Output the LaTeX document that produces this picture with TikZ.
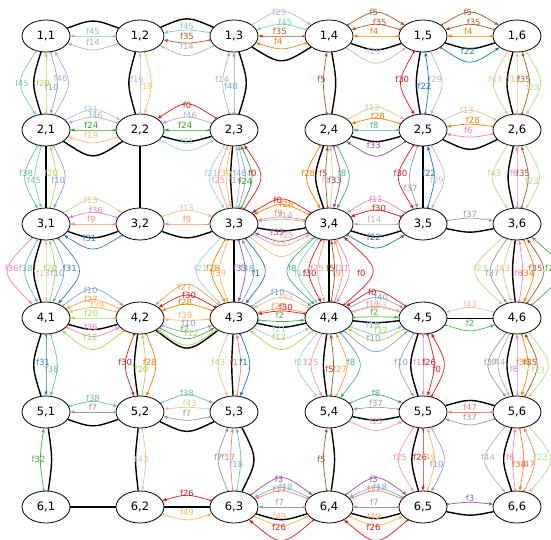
\documentclass[tikz,border=0pt]{standalone}
\usepackage{fontspec}
\setmainfont{DejaVu Sans}
\usetikzlibrary{shapes.geometric,calc,arrows.meta}
\definecolor{f0}{HTML}{E31A1C}\definecolor{f1}{HTML}{1F78B4}\definecolor{f2}{HTML}{4DAF4A}
\definecolor{f3}{HTML}{984EA3}\definecolor{f4}{HTML}{FF7F00}\definecolor{f5}{HTML}{A65628}
\definecolor{f6}{HTML}{F781BF}\definecolor{f7}{HTML}{999999}\definecolor{f8}{HTML}{45B08C}
\definecolor{f9}{HTML}{FC8D62}\definecolor{f10}{HTML}{8DA0CB}\definecolor{f11}{HTML}{E78AC3}
\definecolor{f12}{HTML}{A6D854}\definecolor{f13}{HTML}{E5C494}\definecolor{f14}{HTML}{B3B3B3}
\definecolor{f15}{HTML}{7FCDBB}\definecolor{f16}{HTML}{BEBADA}\definecolor{f17}{HTML}{FB8072}
\definecolor{f18}{HTML}{80B1D3}\definecolor{f19}{HTML}{FDBF6F}\definecolor{f20}{HTML}{A6D854}
\definecolor{f21}{HTML}{A6CEE3}\definecolor{f22}{HTML}{1F78B4}\definecolor{f23}{HTML}{B2DF8A}
\definecolor{f24}{HTML}{33A02C}\definecolor{f25}{HTML}{FB9A99}\definecolor{f26}{HTML}{E41A1C}
\definecolor{f27}{HTML}{FF9E4A}\definecolor{f28}{HTML}{FF7F00}\definecolor{f29}{HTML}{CAB2D6}
\definecolor{f30}{HTML}{E31A1C}\definecolor{f31}{HTML}{377EB8}\definecolor{f32}{HTML}{4DAF4A}
\definecolor{f33}{HTML}{984EA3}\definecolor{f34}{HTML}{FF7F00}\definecolor{f35}{HTML}{B15928}
\definecolor{f36}{HTML}{F781BF}\definecolor{f37}{HTML}{999999}\definecolor{f38}{HTML}{66C2A5}
\definecolor{f39}{HTML}{FDB462}\definecolor{f40}{HTML}{8DA0CB}\definecolor{f43}{HTML}{E5C494}
\definecolor{f44}{HTML}{B3B3B3}\definecolor{f45}{HTML}{7FCDBB}\definecolor{f46}{HTML}{B2ABD2}
\definecolor{f47}{HTML}{FB8072}\definecolor{f48}{HTML}{80A8D8}\definecolor{f49}{HTML}{FDB462}
\tikzset{
  nd/.style={draw, ellipse, line width=0.8pt, minimum width=48pt, minimum height=32pt, inner sep=0pt, font=\fontsize{11.5}{13}\selectfont},
  lp/.store in=\lpos,
  fl/.style={line width=0.7pt, lp=0.5, arrows={Triangle[open,reversed,length=2.6pt,width=2.6pt]-Triangle[length=4pt,width=3pt]}},
  rv/.style={arrows={Triangle[length=4pt,width=3pt]-Triangle[open,reversed,length=2.6pt,width=2.6pt]}},
  bk/.style={line width=1.4pt},
  lb/.style={font=\fontsize{8.5}{10}\selectfont, inner sep=0pt}
}
\newcommand\hf[6][]{\draw[fl,draw=#5,#1] (#2) .. controls ($(#2)!0.5!(#3)+(0,1.333*#4)$) .. (#3) node[lb,text=#5,pos=\lpos,yshift={(5+0.25*(#4))*1pt}]{#6};}
\newcommand\vf[6][]{\draw[fl,draw=#5,#1] (#2) .. controls ($(#2)!0.5!(#3)+(1.333*#4,0)$) .. (#3) node[lb,text=#5,pos=\lpos,xshift={(-3-0.2*(#4))*1pt}]{#6};}
\newcommand\bh[3]{\draw[bk] (#1) .. controls ($(#1)!0.5!(#2)+(0,1.333*#3)$) .. (#2);}
\newcommand\bv[3]{\draw[bk] (#1) .. controls ($(#1)!0.5!(#2)+(1.333*#3,0)$) .. (#2);}
\begin{document}
\begin{tikzpicture}[x=1pt,y=-1pt]
\path[use as bounding box] (0,0) rectangle (551,539);
\foreach \r/\y in {1/36,2/130,3/224,4/318,5/412,6/507}
  \foreach \c/\x in {1/46,2/140,3/234,4/329,5/423,6/517}
    \node[nd] (n\r\c) at (\x,\y) {\r,\c};
% black edges
\bh{n11}{n12}{-13}\bh{n12}{n13}{-15}\bh{n13}{n14}{22}\bh{n14}{n15}{12}\bh{n15}{n16}{11}
\bh{n21}{n22}{23}\bh{n22}{n23}{10}\bh{n24}{n25}{10}\bh{n25}{n26}{17}
\bh{n31}{n32}{12}\bh{n32}{n33}{12}\bh{n33}{n34}{6}\bh{n34}{n35}{11}\bh{n35}{n36}{7}
\bh{n41}{n42}{10}\bh{n42}{n43}{27}\bh{n43}{n44}{8}\bh{n44}{n45}{4}\bh{n45}{n46}{1}
\bh{n51}{n52}{12}\bh{n52}{n53}{17}\bh{n54}{n55}{7}\bh{n55}{n56}{-10}
\bh{n61}{n62}{0}\bh{n62}{n63}{0}\bh{n63}{n64}{11}\bh{n64}{n65}{10}\bh{n65}{n66}{7}
\bv{n11}{n21}{-11}\bv{n21}{n31}{0}\bv{n31}{n41}{-11}\bv{n41}{n51}{-11}\bv{n51}{n61}{5}
\bv{n12}{n22}{-10}\bv{n22}{n32}{0}\bv{n42}{n52}{-5}\bv{n52}{n62}{-4}
\bv{n13}{n23}{11}\bv{n23}{n33}{-3}\bv{n33}{n43}{0}\bv{n43}{n53}{-2}\bv{n53}{n63}{18}
\bv{n14}{n24}{6}\bv{n24}{n34}{-12}\bv{n34}{n44}{0}\bv{n44}{n54}{-5}\bv{n54}{n64}{5}
\bv{n15}{n25}{-6}\bv{n25}{n35}{0}\bv{n45}{n55}{-11}\bv{n55}{n65}{-10}
\bv{n16}{n26}{-9}\bv{n26}{n36}{-8}\bv{n36}{n46}{-4}\bv{n46}{n56}{-9}\bv{n56}{n66}{-12}
% row 1
\hf[rv]{n11}{n12}{0}{f45}{f45}
\hf[rv]{n11}{n12}{12}{f14}{f14}
\hf[rv]{n12}{n13}{-5}{f45}{f45}
\hf[rv]{n12}{n13}{6}{f35}{f35}
\hf[rv]{n12}{n13}{17}{f14}{f14}
\hf[lp=.45]{n13}{n14}{-22}{f29}{f29}
\hf[rv,lp=.6]{n13}{n14}{-10}{f45}{f45}
\hf[rv,lp=.45]{n13}{n14}{0}{f35}{f35}
\hf[rv,lp=.42]{n13}{n14}{11}{f4}{f4}
\hf[lp=.45]{n14}{n15}{-21}{f5}{f5}
\hf[rv,lp=.6]{n14}{n15}{-10}{f35}{f35}
\hf[rv,lp=.45]{n14}{n15}{0}{f4}{f4}
\hf[lp=.45]{n14}{n15}{24}{f29}{f29}
\hf[lp=.45]{n15}{n16}{-21}{f5}{f5}
\hf[rv,lp=.6]{n15}{n16}{-10}{f35}{f35}
\hf[rv,lp=.45]{n15}{n16}{0}{f4}{f4}
\hf[lp=.45]{n15}{n16}{23}{f22}{f22}
% col row1-2
\vf{n11}{n21}{-23}{f45}{f45}
\vf[rv]{n11}{n21}{0}{f20}{f20}
\vf[lp=.6]{n11}{n21}{10}{f10}{f10}
\vf[rv,lp=.4]{n11}{n21}{20}{f46}{f46}
\vf[rv,lp=.42]{n12}{n22}{0}{f16}{f16}
\vf[lp=.58]{n12}{n22}{10}{f19}{f19}
\vf[rv,lp=.42]{n13}{n23}{-10}{f14}{f14}
\vf[rv,lp=.58]{n13}{n23}{0}{f48}{f48}
\vf[rv,lp=.42]{n14}{n24}{-5}{f5}{f5}
\vf[lp=.42]{n15}{n25}{-20}{f30}{f30}
\vf[rv,lp=.58]{n15}{n25}{5}{f22}{f22}
\vf[lp=.42]{n15}{n25}{17}{f29}{f29}
\vf[lp=.42]{n16}{n26}{-21}{f43}{f43}
\vf[rv,lp=.42]{n16}{n26}{0}{f13}{f13}
\vf[rv,lp=.42]{n16}{n26}{11}{f35}{f35}
\vf[lp=.58]{n16}{n26}{21}{f23}{f23}
% row 2
\hf[lp=.45]{n21}{n22}{-18}{f21}{f21}
\hf[rv,lp=.58]{n21}{n22}{-11}{f46}{f46}
\hf[rv,lp=.45]{n21}{n22}{0}{f24}{f24}
\hf[rv,lp=.45]{n21}{n22}{11}{f19}{f19}
\hf[rv]{n22}{n23}{-23}{f0}{f0}
\hf[rv,lp=.58]{n22}{n23}{-11}{f46}{f46}
\hf[rv,lp=.45]{n22}{n23}{0}{f24}{f24}
\hf{n22}{n23}{18}{f21}{f21}
\hf[lp=.42]{n24}{n25}{-20}{f13}{f13}
\hf[rv,lp=.55]{n24}{n25}{-10}{f28}{f28}
\hf[rv,lp=.45]{n24}{n25}{0}{f8}{f8}
\hf[rv,lp=.45]{n24}{n25}{23}{f33}{f33}
\hf[lp=.42]{n25}{n26}{-17}{f13}{f13}
\hf[rv,lp=.58]{n25}{n26}{-5}{f28}{f28}
\hf[rv,lp=.45]{n25}{n26}{6}{f6}{f6}
% col row2-3
\vf[lp=.42]{n21}{n31}{-19}{f38}{f38}
\vf[lp=.58]{n21}{n31}{-10}{f45}{f45}
\vf[rv,lp=.42]{n21}{n31}{9}{f20}{f20}
\vf[lp=.58]{n21}{n31}{17}{f10}{f10}
\vf[lp=.42]{n23}{n33}{-22}{f21}{f21}
\vf[rv,lp=.58]{n23}{n33}{-14}{f25}{f25}
\vf[lp=.42]{n23}{n33}{-7}{f39}{f39}
\vf[rv,lp=.58]{n23}{n33}{5}{f14}{f14}
\vf[rv,lp=.42]{n23}{n33}{10}{f48}{f48}
\vf[rv,lp=.58]{n23}{n33}{16}{f24}{f24}
\vf[rv,lp=.42]{n23}{n33}{24}{f0}{f0}
\vf[lp=.42]{n24}{n34}{-20}{f28}{f28}
\vf[rv,lp=.42]{n24}{n34}{-3}{f5}{f5}
\vf[rv,lp=.58]{n24}{n34}{3}{f13}{f13}
\vf[lp=.58]{n24}{n34}{10}{f33}{f33}
\vf[lp=.42]{n24}{n34}{18}{f8}{f8}
\vf[lp=.42]{n25}{n35}{-22}{f30}{f30}
\vf[lp=.72]{n25}{n35}{-12}{f37}{f37}
\vf[rv,lp=.42]{n25}{n35}{10}{f22}{f22}
\vf[lp=.58]{n25}{n35}{19}{f29}{f29}
\vf[lp=.42]{n26}{n36}{-22}{f43}{f43}
\vf[rv,lp=.42]{n26}{n36}{0}{f6}{f6}
\vf[rv,lp=.42]{n26}{n36}{10}{f35}{f35}
\vf[lp=.58]{n26}{n36}{20}{f23}{f23}
% row 3
\hf[lp=.45]{n31}{n32}{-22}{f13}{f13}
\hf[rv,lp=.58]{n31}{n32}{-10}{f36}{f36}
\hf[rv,lp=.45]{n31}{n32}{0}{f9}{f9}
\hf[rv,lp=.42]{n31}{n32}{22}{f31}{f31}
\hf{n32}{n33}{-12}{f13}{f13}
\hf[rv]{n32}{n33}{0}{f9}{f9}
\hf[rv,lp=.42]{n33}{n34}{-22}{f0}{f0}
\hf[rv,lp=.62]{n33}{n34}{-17}{f28}{f28}
\hf[rv,lp=.42]{n33}{n34}{-6}{f9}{f9}
\hf[rv,lp=.62]{n33}{n34}{-4}{f14}{f14}
\hf[rv,lp=.4]{n33}{n34}{15}{f33}{f33}
\hf[lp=.62]{n33}{n34}{19}{f25}{f25}
\hf[lp=.45]{n33}{n34}{29}{f13}{f13}
\hf[rv]{n34}{n35}{-22}{f11}{f11}
\hf[rv,lp=.58]{n34}{n35}{-12}{f30}{f30}
\hf[rv,lp=.45]{n34}{n35}{0}{f14}{f14}
\hf[lp=.45]{n34}{n35}{21}{f22}{f22}
\hf{n35}{n36}{-5}{f37}{f37}
% col row3-4
\vf[lp=.45]{n31}{n41}{-35}{f36}{f36}
\vf[lp=.45]{n31}{n41}{-19}{f38}{f38}
\vf[rv,lp=.55]{n31}{n41}{0}{f13}{f13}
\vf[rv,lp=.45]{n31}{n41}{8}{f20}{f20}
\vf[lp=.55]{n31}{n41}{16}{f10}{f10}
\vf[lp=.45]{n31}{n41}{30}{f31}{f31}
\vf[lp=.45]{n33}{n43}{-34}{f21}{f21}
\vf[lp=.45]{n33}{n43}{-20}{f28}{f28}
\vf[lp=.55]{n33}{n43}{-13}{f39}{f39}
\vf[lp=.45]{n33}{n43}{10}{f33}{f33}
\vf[rv,lp=.45]{n33}{n43}{18}{f48}{f48}
\vf[lp=.55]{n33}{n43}{28}{f1}{f1}
\vf[lp=.45]{n34}{n44}{-38}{f8}{f8}
\vf[lp=.55]{n34}{n44}{-28}{f15}{f15}
\vf[lp=.55]{n34}{n44}{-18}{f30}{f30}
\vf[lp=.45]{n34}{n44}{-10}{f25}{f25}
\vf[rv,lp=.45]{n34}{n44}{5}{f5}{f5}
\vf[rv,lp=.55]{n34}{n44}{12}{f9}{f9}
\vf[lp=.45]{n34}{n44}{18}{f11}{f11}
\vf[rv,lp=.55]{n34}{n44}{40}{f0}{f0}
\vf[lp=.45]{n36}{n46}{-38}{f23}{f23}
\vf[lp=.55]{n36}{n46}{-24}{f37}{f37}
\vf[lp=.45]{n36}{n46}{-12}{f43}{f43}
\vf[rv,lp=.55]{n36}{n46}{5}{f6}{f6}
\vf[lp=.55]{n36}{n46}{15}{f34}{f34}
\vf[rv,lp=.45]{n36}{n46}{24}{f35}{f35}
\vf[rv,lp=.45]{n36}{n46}{40}{f2}{f2}
% row 4
\hf[lp=.45]{n41}{n42}{-26}{f10}{f10}
\hf[rv,lp=.45]{n41}{n42}{-16}{f27}{f27}
\hf[rv,lp=.62]{n41}{n42}{-9}{f39}{f39}
\hf[rv,lp=.45]{n41}{n42}{0}{f20}{f20}
\hf[lp=.45]{n41}{n42}{16}{f36}{f36}
\hf[rv,lp=.45]{n41}{n42}{28}{f12}{f12}
\hf[rv,lp=.45]{n42}{n43}{-30}{f27}{f27}
\hf[rv,lp=.55]{n42}{n43}{-20}{f30}{f30}
\hf[rv,lp=.45]{n42}{n43}{-12}{f28}{f28}
\hf[rv,lp=.45]{n42}{n43}{2}{f39}{f39}
\hf[lp=.55]{n42}{n43}{12}{f10}{f10}
\hf[lp=.45]{n42}{n43}{18}{f2}{f2}
\hf[rv,lp=.6]{n42}{n43}{24}{f12}{f12}
\hf[lp=.42]{n43}{n44}{-24}{f10}{f10}
\hf[rv,lp=.62]{n43}{n44}{-18}{f43}{f43}
\hf[rv,lp=.42]{n43}{n44}{-8}{f27}{f27}
\hf[rv,lp=.62]{n43}{n44}{-6}{f30}{f30}
\hf[lp=.45]{n43}{n44}{3}{f2}{f2}
\hf[lp=.45]{n43}{n44}{18}{f21}{f21}
\hf[rv,lp=.45]{n43}{n44}{28}{f12}{f12}
\hf[rv,lp=.42]{n44}{n45}{-24}{f0}{f0}
\hf[lp=.62]{n44}{n45}{-18}{f40}{f40}
\hf[lp=.42]{n44}{n45}{-10}{f11}{f11}
\hf[rv,lp=.62]{n44}{n45}{-9}{f43}{f43}
\hf[lp=.45]{n44}{n45}{-1}{f2}{f2}
\hf[lp=.42]{n44}{n45}{14}{f15}{f15}
\hf[rv,lp=.62]{n44}{n45}{20}{f12}{f12}
\hf[lp=.45]{n44}{n45}{30}{f10}{f10}
\hf[rv]{n45}{n46}{-9}{f43}{f43}
\hf{n45}{n46}{11}{f2}{f2}
% col row4-5
\vf[lp=.45]{n41}{n51}{0}{f31}{f31}
\vf[lp=.6]{n41}{n51}{10}{f38}{f38}
\vf[lp=.45]{n42}{n52}{-13}{f30}{f30}
\vf[rv,lp=.6]{n42}{n52}{5}{f20}{f20}
\vf[lp=.45]{n42}{n52}{14}{f28}{f28}
\vf[lp=.45]{n43}{n53}{-14}{f43}{f43}
\vf[rv,lp=.45]{n43}{n53}{6}{f17}{f17}
\vf[lp=.45]{n43}{n53}{14}{f1}{f1}
\vf[lp=.45]{n44}{n54}{-28}{f21}{f21}
\vf[lp=.45]{n44}{n54}{-16}{f25}{f25}
\vf[rv,lp=.6]{n44}{n54}{4}{f5}{f5}
\vf[rv,lp=.6]{n44}{n54}{16}{f27}{f27}
\vf[lp=.45]{n44}{n54}{28}{f8}{f8}
\vf[lp=.45]{n45}{n55}{-21}{f10}{f10}
\vf[lp=.45]{n45}{n55}{0}{f11}{f11}
\vf[lp=.45]{n45}{n55}{10}{f26}{f26}
\vf[rv,lp=.6]{n45}{n55}{19}{f0}{f0}
\vf[lp=.45]{n46}{n56}{-26}{f37}{f37}
\vf[lp=.45]{n46}{n56}{-17}{f44}{f44}
\vf[rv,lp=.6]{n46}{n56}{0}{f6}{f6}
\vf[lp=.45]{n46}{n56}{10}{f34}{f34}
\vf[rv,lp=.45]{n46}{n56}{18}{f35}{f35}
\vf[lp=.6]{n46}{n56}{28}{f23}{f23}
% row 5
\hf{n51}{n52}{-9}{f38}{f38}
\hf[rv]{n51}{n52}{0}{f7}{f7}
\hf{n52}{n53}{-15}{f38}{f38}
\hf[rv,lp=.58]{n52}{n53}{-4}{f43}{f43}
\hf[rv]{n52}{n53}{7}{f7}{f7}
\hf{n54}{n55}{-15}{f8}{f8}
\hf[rv]{n54}{n55}{-4}{f37}{f37}
\hf{n54}{n55}{16}{f25}{f25}
\hf[rv]{n55}{n56}{0}{f47}{f47}
\hf[rv]{n55}{n56}{11}{f37}{f37}
% col row5-6
\vf[rv]{n51}{n61}{-5}{f32}{f32}
\vf{n52}{n62}{5}{f43}{f43}
\vf[rv,lp=.45]{n53}{n63}{-14}{f7}{f7}
\vf[rv,lp=.45]{n53}{n63}{-3}{f17}{f17}
\vf[rv,lp=.6]{n53}{n63}{6}{f18}{f18}
\vf[rv]{n54}{n64}{-5}{f5}{f5}
\vf[lp=.45]{n55}{n65}{-22}{f25}{f25}
\vf[lp=.45]{n55}{n65}{0}{f26}{f26}
\vf[rv,lp=.45]{n55}{n65}{10}{f49}{f49}
\vf[lp=.6]{n55}{n65}{19}{f10}{f10}
\vf[lp=.45]{n56}{n66}{-29}{f44}{f44}
\vf[rv,lp=.45]{n56}{n66}{-4}{f6}{f6}
\vf[lp=.6]{n56}{n66}{6}{f34}{f34}
\vf[rv,lp=.6]{n56}{n66}{16}{f47}{f47}
\vf[lp=.45]{n56}{n66}{30}{f23}{f23}
% row 6
\hf[rv]{n62}{n63}{-10}{f26}{f26}
\hf{n62}{n63}{11}{f49}{f49}
\hf[lp=.45]{n63}{n64}{-26}{f3}{f3}
\hf[rv,lp=.6]{n63}{n64}{-17}{f18}{f18}
\hf[rv,lp=.45]{n63}{n64}{-14}{f17}{f17}
\hf[rv,lp=.45]{n63}{n64}{0}{f7}{f7}
\hf[lp=.45]{n63}{n64}{16}{f49}{f49}
\hf[rv,lp=.45]{n63}{n64}{30}{f26}{f26}
\hf[lp=.45]{n64}{n65}{-26}{f3}{f3}
\hf[rv,lp=.6]{n64}{n65}{-17}{f18}{f18}
\hf[rv,lp=.45]{n64}{n65}{-14}{f17}{f17}
\hf[rv,lp=.45]{n64}{n65}{0}{f7}{f7}
\hf[lp=.45]{n64}{n65}{16}{f49}{f49}
\hf[rv,lp=.45]{n64}{n65}{30}{f26}{f26}
\hf{n65}{n66}{-4}{f3}{f3}
\end{tikzpicture}
\end{document}
